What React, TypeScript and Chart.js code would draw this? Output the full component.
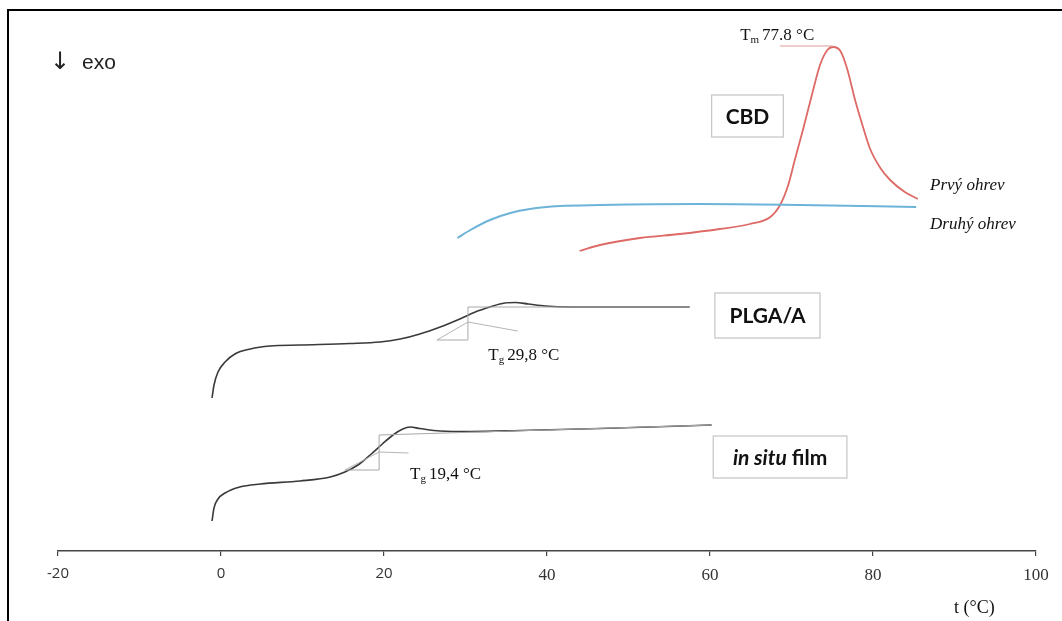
import React, { useEffect, useRef } from "react";
import { Chart, registerables } from "chart.js";
Chart.register(...registerables);

// X axis
const xTickValues = [-20, 0, 20, 40, 60, 80, 100];

// CBD – first heating (red)
const cbdFirstT = [44.0, 46.5, 51.4, 56.3, 61.2, 64.9, 67.4, 68.6, 69.6, 70.4, 71.4, 72.5, 73.5, 74.4, 75.1, 76.0, 76.8, 77.8, 78.7, 79.6, 80.9, 82.1, 83.9, 85.5];
const cbdFirstY = [30.0, 30.6, 31.3, 31.7, 32.2, 32.7, 33.4, 34.6, 36.6, 39.1, 42.1, 45.6, 48.6, 50.1, 50.4, 50.0, 48.3, 45.1, 42.6, 40.3, 38.3, 37.1, 35.9, 35.2];

// CBD – second heating (blue)
const cbdSecondT = [29.0, 30.6, 33.0, 35.5, 37.9, 41.6, 46.5, 58.8, 71.0, 85.3];
const cbdSecondY = [31.3, 32.1, 33.1, 33.8, 34.2, 34.5, 34.6, 34.7, 34.6, 34.4];

// Tm marker line
const tmLineT = [68.6, 75.1];
const tmLineY = [50.5, 50.5];

// PLGA/A
const plgaT = [-1.1, -0.86, -0.37, 0.5, 1.7, 3.6, 6.0, 9.7, 15.8, 19.5, 22.0, 24.4, 26.9, 29.3, 31.2, 33.0, 34.8, 36.1, 37.7, 39.8, 42.8, 57.5];
const plgaY = [15.3, 16.6, 17.9, 18.9, 19.7, 20.2, 20.5, 20.6, 20.75, 20.9, 21.2, 21.7, 22.4, 23.2, 23.9, 24.4, 24.8, 24.85, 24.7, 24.5, 24.4, 24.4];

// PLGA/A Tg construction
const plgaStepT = [26.5, 30.3, 30.3, 57.5];
const plgaStepY = [21.1, 21.1, 24.4, 24.4];
const plgaTanT = [26.5, 30.3, 36.4];
const plgaTanY = [21.1, 22.9, 22.0];

// in situ film
const filmT = [-1.1, -0.86, -0.37, 0.5, 2.3, 4.8, 9.7, 13.4, 15.2, 16.8, 18.3, 19.8, 21.1, 22.3, 23.2, 24.4, 26.9, 30.6, 36.7, 46.5, 60.2];
const filmY = [3.0, 4.3, 5.2, 5.8, 6.4, 6.7, 7.0, 7.4, 7.9, 8.6, 9.6, 10.7, 11.6, 12.2, 12.4, 12.25, 12.0, 11.95, 12.05, 12.25, 12.6];

// in situ film Tg construction
const filmStepT = [15.2, 19.4, 19.4, 60.2];
const filmStepY = [8.1, 8.1, 11.6, 12.6];
const filmTanT = [15.2, 19.4, 23.0];
const filmTanY = [8.1, 9.9, 9.8];

const zip = (xs: number[], ys: number[]) => xs.map((x, i) => ({ x, y: ys[i] }));

const SANS_BOLD = "Lato, 'Open Sans', sans-serif";
const SERIF = "'Liberation Serif', 'DejaVu Serif', serif";

function subText(ctx: CanvasRenderingContext2D, x: number, y: number, main: string, sub: string, rest: string, size: number) {
  ctx.font = `${size}px ${SERIF}`;
  ctx.textBaseline = "alphabetic";
  ctx.textAlign = "left";
  ctx.fillText(main, x, y);
  let cx = x + ctx.measureText(main).width;
  ctx.font = `${Math.round(size * 0.65)}px ${SERIF}`;
  ctx.fillText(sub, cx, y + 3);
  cx += ctx.measureText(sub).width + 3;
  ctx.font = `${size}px ${SERIF}`;
  ctx.fillText(rest, cx, y);
}

const annotations = {
  id: "annotations",
  beforeDraw(chart: any) {
    const c = chart.ctx;
    c.save();
    c.fillStyle = "#fff";
    c.fillRect(0, 0, chart.width, chart.height);
    c.restore();
  },
  afterDraw(chart: any) {
    const c: CanvasRenderingContext2D = chart.ctx;
    const xs = chart.scales.x;
    const ys = chart.scales.y;
    const px = (v: number) => xs.getPixelForValue(v);
    const py = (v: number) => ys.getPixelForValue(v);
    c.save();
    // frame
    c.fillStyle = "#000";
    c.fillRect(7, 9, chart.width - 7, 2);
    c.fillRect(7, 9, 2, chart.height - 9);

    // ↓ exo
    c.fillStyle = "#222";
    c.textBaseline = "middle";
    c.textAlign = "center";
    c.font = "24px 'DejaVu Sans', sans-serif";
    c.fillText("↓", 60, 63);
    c.textAlign = "left";
    c.font = "21px 'Liberation Sans', Arial, sans-serif";
    c.fillText("exo", 82, 63);

    // boxes
    const box = (t0: number, t1: number, y0: number, y1: number, parts: { text: string; italic?: boolean }[]) => {
      const x0 = px(t0), x1 = px(t1), top = py(y0), bot = py(y1);
      c.strokeStyle = "#c8c8c8";
      c.lineWidth = 1.3;
      c.strokeRect(x0, top, x1 - x0, bot - top);
      c.fillStyle = "#111";
      c.textBaseline = "middle";
      c.textAlign = "left";
      let total = 0;
      const fonts = parts.map((p) => `${p.italic ? "italic " : ""}bold 21px ${SANS_BOLD}`);
      parts.forEach((p, i) => {
        c.font = fonts[i];
        total += c.measureText(p.text).width;
      });
      let cx = (x0 + x1) / 2 - total / 2;
      const cy = (top + bot) / 2 + 1;
      parts.forEach((p, i) => {
        c.font = fonts[i];
        c.fillText(p.text, cx, cy);
        cx += c.measureText(p.text).width;
      });
    };
    box(60.2, 69.0, 45.6, 41.4, [{ text: "CBD" }]);
    box(60.6, 73.5, 25.8, 21.3, [{ text: "PLGA/A" }]);
    box(60.4, 76.8, 11.5, 7.3, [{ text: "in situ", italic: true }, { text: " film" }]);

    // temperature labels
    c.fillStyle = "#111";
    subText(c, px(63.7), py(51.1), "T", "m", "77.8 °C", 17);
    subText(c, px(32.8), py(19.1), "T", "g", "29,8 °C", 17);
    subText(c, px(23.2), py(7.2), "T", "g", "19,4 °C", 17);

    // curve labels
    c.font = `italic 17px ${SERIF}`;
    c.textBaseline = "alphabetic";
    c.fillText("Prvý ohrev", px(87.0), py(36.1));
    c.fillText("Druhý ohrev", px(87.0), py(32.2));

    // axis title
    c.font = `18px ${SERIF}`;
    c.fillText("t (°C)", 954, 613);
    c.restore();
  },
};

export default function App() {
  const ref = useRef<HTMLCanvasElement>(null);
  useEffect(() => {
    if (!ref.current) return;
    const line = (data: any[], color: string, width: number, smooth = true) => ({
      data,
      borderColor: color,
      borderWidth: width,
      pointRadius: 0,
      showLine: true,
      fill: false,
      cubicInterpolationMode: smooth ? "monotone" : "default",
      tension: 0,
    });
    const chart = new Chart(ref.current, {
      type: "scatter",
      data: {
        datasets: [
          line(zip(plgaStepT, plgaStepY), "#a8a8a8", 1, false),
          line(zip(plgaTanT, plgaTanY), "#b5b5b5", 1, false),
          line(zip(filmStepT, filmStepY), "#a8a8a8", 1, false),
          line(zip(filmTanT, filmTanY), "#b5b5b5", 1, false),
          line(zip(tmLineT, tmLineY), "#e09a9a", 1.2, false),
          line(zip(cbdSecondT, cbdSecondY), "#6db3d8", 2),
          line(zip(cbdFirstT, cbdFirstY), "#dd6a66", 1.8),
          line(zip(plgaT, plgaY), "#3a3a3a", 1.6),
          line(zip(filmT, filmY), "#3a3a3a", 1.6),
        ] as any,
      },
      options: {
        animation: false,
        responsive: false,
        layout: { padding: { left: 58, right: 26, top: 11, bottom: 0 } },
        plugins: { legend: { display: false }, tooltip: { enabled: false } },
        scales: {
          x: {
            type: "linear",
            min: -20,
            max: 100,
            afterBuildTicks: (s: any) => {
              s.ticks = xTickValues.map((v) => ({ value: v }));
            },
            afterFit: (s: any) => {
              s.height = 70;
            },
            border: { display: true, color: "#444", width: 1.5 },
            grid: { drawOnChartArea: false, drawTicks: true, tickLength: 5, color: "#444", lineWidth: 1.2 },
            ticks: {
              color: "#333",
              padding: 9,
              maxRotation: 0,
              font: (ctx: any) =>
                ctx.tick && ctx.tick.value < 40
                  ? { family: "'Open Sans', 'Noto Sans', sans-serif", size: 15 }
                  : { family: SERIF, size: 17 },
            },
          },
          y: { type: "linear", min: 0, max: 54, display: false },
        },
      } as any,
      plugins: [annotations],
    });
    return () => chart.destroy();
  }, []);
  return (
    <div style={{ position: "absolute", left: 0, top: 0, width: 1062, height: 621 }}>
      <canvas ref={ref} width={1062} height={621} />
    </div>
  );
}
